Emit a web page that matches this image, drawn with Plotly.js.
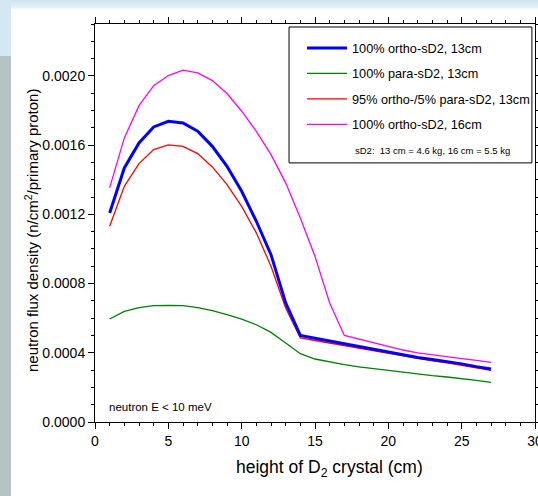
<!DOCTYPE html>
<html>
<head>
<meta charset="utf-8">
<script src="https://cdn.plot.ly/plotly-3.0.1.min.js"></script>
<style>
  html, body { margin: 0; padding: 0; background: #ffffff; }
  #wrap { position: relative; width: 538px; height: 496px; overflow: hidden; }
  #topband { position: absolute; left: 0; top: 0; width: 538px; height: 10px;
    background: linear-gradient(#cfe4ef, #e4f1f7 70%, #ffffff); }
  #leftblue { position: absolute; left: 0; top: 0; width: 11px; height: 56px; background: #d4e8f2; }
  #leftgray { position: absolute; left: 0; top: 56px; width: 11px; height: 440px; background: #b6c3c4; }
  #chart { position: absolute; left: 0; top: 0; width: 538px; height: 496px; }
</style>
</head>
<body>
<div id="wrap">
  <div id="topband"></div>
  <div id="leftblue"></div>
  <div id="leftgray"></div>
  <div id="chart"></div>
</div>
<script>
const heights = [1,2,3,4,5,6,7,8,9,10,11,12,13,14,15,16,17,18,19,20,21,22,23,24,25,26,27];

const ortho13 = [0.001208,0.001468,0.001613,0.001705,0.001738,0.001728,0.001680,0.001593,0.001478,0.001333,
                 0.001160,0.000967,0.000688,0.000500,0.000484,0.000468,0.000453,0.000438,0.000423,0.000408,
                 0.000390,0.000373,0.000361,0.000350,0.000336,0.000320,0.000306];
const para13 = [0.000595,0.000639,0.000661,0.000672,0.000674,0.000672,0.000661,0.000643,0.000620,0.000595,
                0.000562,0.000518,0.000457,0.000395,0.000364,0.000347,0.000331,0.000319,0.000308,0.000297,
                0.000287,0.000277,0.000268,0.000260,0.000252,0.000241,0.000229];
const mix13 = [0.001131,0.001362,0.001493,0.001574,0.001601,0.001593,0.001551,0.001474,0.001372,0.001246,
               0.001093,0.000900,0.000659,0.000486,0.000471,0.000456,0.000442,0.000428,0.000413,0.000399,
               0.000382,0.000366,0.000354,0.000342,0.000328,0.000312,0.000298];
const ortho16 = [0.001353,0.001642,0.001828,0.001944,0.002002,0.002033,0.002017,0.001973,0.001898,0.001796,
                 0.001680,0.001545,0.001382,0.001179,0.000957,0.000688,0.000500,0.000478,0.000456,0.000434,
                 0.000416,0.000399,0.000387,0.000376,0.000366,0.000356,0.000345];

const seriesNames = ["100% ortho-sD2, 13cm", "100% para-sD2, 13cm", "95% ortho-/5% para-sD2, 13cm", "100% ortho-sD2, 16cm"];
const noteText = "sD2:\u00a0 13 cm = 4.6 kg, 16 cm = 5.5 kg";
const energyText = "neutron E &lt; 10 meV";
const xTitle = "height of D<sub>2</sub> crystal (cm)";
const yTitle = "neutron flux density (n/cm<sup>2</sup>/primary proton)";

const FONT = "Arial, 'Liberation Sans', sans-serif";

const traces = [
  {x: heights, y: para13, name: seriesNames[1], legendrank: 2, legendgroup: "b",
   mode: "lines", line: {color: "#008000", width: 1.3}},
  {x: heights, y: mix13, name: seriesNames[2], legendrank: 3, legendgroup: "c",
   mode: "lines", line: {color: "#ff0000", width: 1.3}},
  {x: heights, y: ortho16, name: seriesNames[3], legendrank: 4, legendgroup: "d",
   mode: "lines", line: {color: "#ff00ff", width: 1.3}},
  {x: heights, y: ortho13, name: seriesNames[0], legendrank: 1, legendgroup: "a",
   mode: "lines", line: {color: "#0000ff", width: 3}}
];

const layout = {
  width: 538, height: 496,
  margin: {l: 95, r: 3, t: 24, b: 74, pad: 0},
  paper_bgcolor: "rgba(0,0,0,0)",
  plot_bgcolor: "#ffffff",
  font: {family: FONT, color: "#000000", size: 14},
  showlegend: true,
  legend: {
    x: 0.4705, y: 0.977, xanchor: "left", yanchor: "top",
    bgcolor: "rgba(0,0,0,0)", borderwidth: 0,
    font: {family: FONT, size: 12.7, color: "#000"},
    tracegroupgap: 6, itemwidth: 40, traceorder: "grouped"
  },
  xaxis: {
    range: [0, 30], dtick: 5, tick0: 0,
    showgrid: false, zeroline: false,
    showline: true, linecolor: "#000", linewidth: 1, mirror: "ticks",
    ticks: "outside", ticklen: 6, tickwidth: 1, tickcolor: "#000",
    minor: {dtick: 1, ticks: "outside", ticklen: 3, tickcolor: "#000", showgrid: false},
    tickfont: {size: 14}, ticklabeloverflow: "allow"
  },
  yaxis: {
    range: [0, 0.0023], dtick: 0.0004, tick0: 0, tickformat: ".4f",
    showgrid: false, zeroline: false,
    showline: true, linecolor: "#000", linewidth: 1, mirror: "ticks",
    ticks: "outside", ticklen: 6, tickwidth: 1, tickcolor: "#000",
    minor: {dtick: 0.0001, ticks: "outside", ticklen: 3, tickcolor: "#000", showgrid: false},
    tickfont: {size: 14}
  },
  shapes: [
    {type: "rect", xref: "paper", yref: "paper", x0: 0.441, x1: 0.993, y0: 0.651, y1: 0.9925,
     line: {color: "#000", width: 1}, fillcolor: "#ffffff", layer: "below"}
  ],
  annotations: [
    {xref: "paper", yref: "paper", x: 0.586, y: 0.683, xanchor: "left", yanchor: "middle",
     text: noteText, showarrow: false, font: {size: 9.5}},
    {xref: "paper", yref: "paper", x: 0.027, y: 0.038, xanchor: "left", yanchor: "middle",
     text: energyText, showarrow: false, font: {size: 11.5}},
    {xref: "paper", yref: "paper", x: 0.534, y: -0.1156, xanchor: "center", yanchor: "middle",
     text: xTitle, showarrow: false, font: {size: 17.5}},
    {xref: "paper", yref: "paper", x: -0.143, y: 0.48, xanchor: "center", yanchor: "middle",
     textangle: -90, text: yTitle, showarrow: false, font: {size: 15}}
  ]
};

Plotly.newPlot("chart", traces, layout, {displayModeBar: false, staticPlot: true});
</script>
</body>
</html>
